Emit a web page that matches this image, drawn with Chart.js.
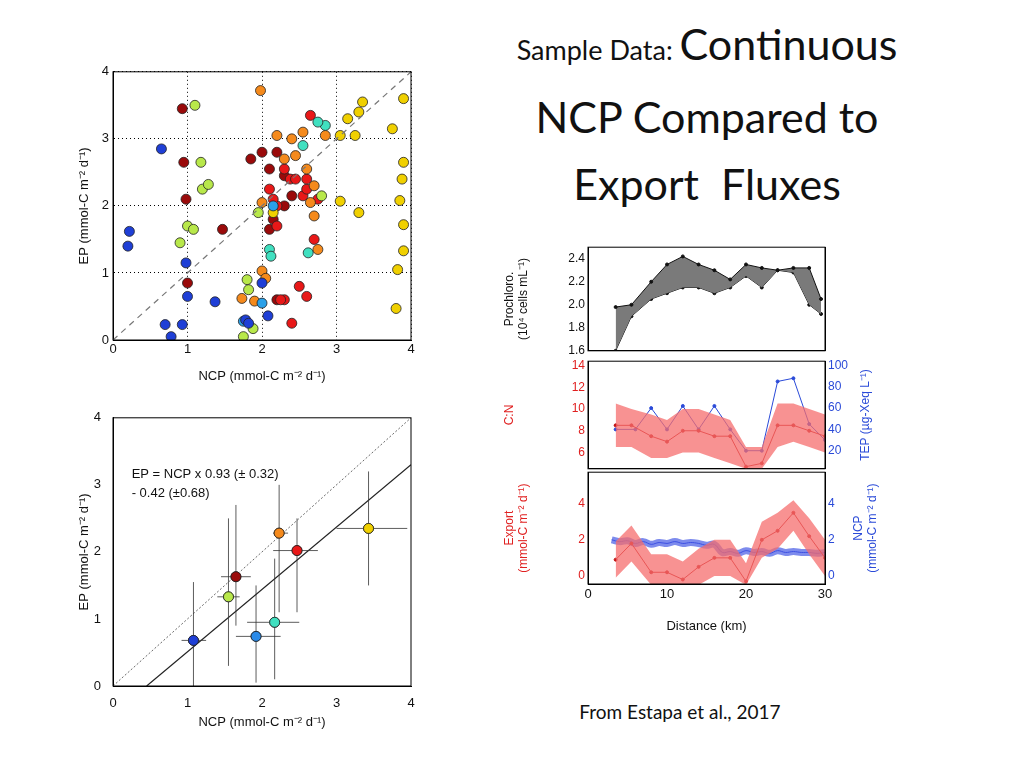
<!DOCTYPE html>
<html><head><meta charset="utf-8">
<script src="https://cdn.jsdelivr.net/npm/chart.js@4"></script>
<style>
body{margin:0;background:#fff;width:1024px;height:768px;position:relative;overflow:hidden;font-family:Lato,sans-serif}
canvas{position:absolute}
.t{position:absolute;text-align:center;color:#111}
</style></head><body>
<div class="t" style="left:437px;top:10px;width:540px;font-size:43px;line-height:67px"><span style="font-size:27px">Sample Data: </span>Continuous<br>NCP Compared to<br>Export&nbsp; Fluxes</div>
<div class="t" style="left:520px;top:700px;width:320px;font-size:19px">From Estapa et al., 2017</div>
<canvas id="c1" width="374" height="340" style="left:46px;top:60px"></canvas>
<canvas id="c2" width="374" height="340" style="left:46px;top:406px"></canvas>
<canvas id="c3" width="400" height="124" style="left:500px;top:237px"></canvas>
<canvas id="c4" width="400" height="128" style="left:500px;top:351px"></canvas>
<canvas id="c5" width="400" height="172" style="left:500px;top:462px"></canvas>
<script>
// ---------- data ----------
const scatterGroups = {
 '#1f3fd6':[[0.2,1.4],[0.22,1.62],[0.65,2.85],[0.7,0.23],[0.78,0.05],[0.93,0.23],[0.98,1.15],[1.0,0.65],[1.37,0.57],[1.78,0.3],[1.82,0.25],[2.0,0.85],[2.08,0.36]],
 '#2aa0e8':[[2.15,2.0],[2.0,0.55],[1.75,0.28]],
 '#40e0c0':[[2.1,1.35],[2.12,1.25],[2.55,2.9],[2.62,1.3],[2.85,3.2],[2.75,3.25]],
 '#b8e84a':[[0.9,1.45],[1.0,1.7],[1.08,1.65],[1.1,3.5],[1.18,2.65],[1.2,2.25],[1.28,2.32],[1.75,0.05],[1.8,0.9],[1.82,0.75],[1.88,0.17],[1.95,1.9],[2.8,2.15]],
 '#f0d000':[[2.15,1.9],[3.05,2.07],[3.15,3.3],[3.25,3.05],[3.3,1.9],[3.3,3.4],[3.35,3.55],[3.75,3.15],[3.8,0.47],[3.82,1.05],[3.85,2.08],[3.88,2.4],[3.9,3.6],[3.9,2.65],[3.9,1.72],[3.9,1.33],[3.05,3.05]],
 '#f58a1c':[[1.73,0.62],[1.9,0.58],[2.0,2.05],[2.0,1.03],[2.05,0.92],[2.2,3.05],[2.3,2.7],[2.4,3.0],[2.45,2.75],[2.55,3.1],[2.7,2.3],[2.65,2.05],[2.7,1.85],[2.75,1.35],[2.6,2.55],[1.98,3.72],[2.85,3.05]],
 '#e81818':[[2.3,0.6],[2.38,2.4],[2.4,0.25],[2.5,0.8],[2.55,2.15],[2.6,2.25],[2.65,3.35],[2.7,1.5],[2.2,1.7],[2.2,2.0],[2.1,2.25],[2.15,2.1],[2.75,2.1],[2.25,0.6],[2.6,0.65],[2.3,2.55],[2.45,2.4],[2.6,2.4]],
 '#9a0a0a':[[0.93,3.45],[0.95,2.65],[0.98,2.1],[1.0,0.85],[1.47,1.65],[1.85,2.7],[2.0,2.8],[2.1,2.55],[2.2,2.8],[2.3,2.45],[2.1,1.65],[2.15,1.8],[2.3,2.0],[2.4,2.15],[2.2,0.6]]
};
const meanColors=['#1f3fd6','#2a8ae8','#40e0c0','#b8e84a','#9a0a0a','#f58a1c','#e81818','#f0d000'];
const meanX=[1.08,1.92,2.17,1.55,1.65,2.23,2.47,3.43];
const meanY=[0.68,0.74,0.95,1.33,1.63,2.28,2.02,2.35];
const xLo=[0.92,1.65,1.8,1.4,1.45,2.15,2.15,3.0], xHi=[1.25,2.25,2.5,1.7,1.85,2.35,2.75,3.95];
const yLo=[0.0,0.05,0.1,0.3,0.9,1.1,1.1,1.5], yHi=[1.55,1.5,1.9,2.5,2.7,3.0,2.5,3.2];
const fitSlope=0.93, fitIntercept=-0.42;

const dist=[3.5,5.5,8,10,12,14,16,18,20,22,24,26,28,29.5];
const prochUp=[1.98,2.0,2.2,2.35,2.42,2.35,2.3,2.22,2.35,2.32,2.3,2.32,2.32,2.05];
const prochLo=[1.6,1.9,2.05,2.1,2.15,2.15,2.1,2.15,2.25,2.15,2.3,2.28,2.0,1.92];
const cnX=[3.5,5.5,8,10,12,14,16,18,20,22,24,26,28,30];
const cn=[8.5,8.5,7.5,7,8,8,7.5,7.5,4.7,5,8.5,8.5,8,7.5];
const cnUp=[10.5,10,9.5,9,10,10,9.5,9,6.5,6.5,10.5,10.5,10,9.5];
const cnLo=[6.5,6.5,5.5,5.5,6,6,5.5,5,4.5,4.5,6.5,7,6.5,6];
const tepX=[3.5,6,8,10,12,14,16,18,20,22,24,26,28,30];
const tep=[40,40,60,40,62,40,62,40,20,20,85,88,45,30];
const expX=[3.5,5.5,8,10,12,14,16,18,20,22,24,26,28,30];
const exp=[0.9,1.8,0.2,0.2,-0.2,0.5,1.0,1.0,-0.3,2.0,2.5,3.5,2.2,1.0];
const expUp=[1.9,2.8,1.2,1.2,0.8,1.5,2.0,2.0,0.7,3.0,3.5,4.2,3.2,2.0];
const expLo=[-0.1,0.8,-0.5,-0.5,-0.5,-0.5,0,0,-0.5,1.0,1.5,2.5,1.2,0];
const ncpX=[3,4,5,6,7,8,9,10,11,12,13,14,15,16,17,18,19,20,21,22,23,24,25,26,27,28,29,30];
const ncp=[2.0,1.9,1.95,1.8,1.9,1.75,1.85,1.8,1.9,1.8,1.85,1.8,1.7,1.75,1.3,1.35,1.25,1.4,1.3,1.35,1.25,1.4,1.3,1.35,1.3,1.3,1.25,1.3];
const prochTicks=[1.6,1.8,2,2.2,2.4], cnTicks=[6,8,10,12,14], tepTicks=[20,40,60,80,100], fluxTicks=[0,2,4];
// ---------- helpers ----------
const F='Liberation Sans';
Chart.defaults.font.family=F; Chart.defaults.color='#111'; Chart.defaults.animation=false;
const fixW=w=>function(s){s.width=w;}; const fixH=h=>function(s){s.height=h;};
const pts=(xs,ys)=>xs.map((x,i)=>({x,y:ys[i]}));
const setTicks=arr=>function(s){s.ticks=arr.map(v=>({value:v}));};
const box={id:'box',afterDraw(ch){const a=ch.chartArea,c=ch.ctx;c.save();c.strokeStyle='#000';c.lineWidth=1;c.strokeRect(a.left,a.top,a.right-a.left,a.bottom-a.top);c.restore();}};
const rightTitle=(lines,col)=>({id:'rt',afterDraw(ch){const a=ch.chartArea,c=ch.ctx;c.save();c.fillStyle=col;c.font='12px '+F;c.textAlign='center';
 const cy=(a.top+a.bottom)/2; c.translate(a.right+40+(lines.length-1)*7,cy);c.rotate(-Math.PI/2);
 lines.forEach((l,i)=>c.fillText(l,0,(i-(lines.length-1))*14+4));c.restore();}});
const base={responsive:false,maintainAspectRatio:false,plugins:{legend:{display:false},tooltip:{enabled:false}}};

// ---------- chart 1 ----------
const ds1=Object.entries(scatterGroups).map(([c,a])=>({type:'scatter',data:a.map(p=>({x:p[0],y:p[1]})),backgroundColor:c,borderColor:'#222',borderWidth:0.8,pointRadius:5}));
ds1.unshift({type:'line',data:[{x:0,y:0},{x:4,y:4}],borderColor:'#777',borderWidth:1.2,borderDash:[6,5],pointRadius:0});
const sq=(grid,dash)=>({
 x:{type:'linear',min:0,max:4,afterFit:fixH(48),ticks:{stepSize:1,font:{size:13},padding:2},grid:grid,border:{color:'#000',dash:dash},title:{display:true,text:'NCP (mmol-C m⁻² d⁻¹)',font:{size:13},padding:{top:0}}},
 y:{type:'linear',min:0,max:4,afterFit:fixW(40),ticks:{stepSize:1,font:{size:13},padding:4},grid:grid,border:{color:'#000',dash:dash},title:{display:true,text:'EP (mmol-C m⁻² d⁻¹)',font:{size:13},padding:{bottom:4}}}
});
new Chart(c1,{data:{datasets:ds1},options:{...base,layout:{padding:{top:9,right:9,left:27,bottom:12}},scales:sq({color:'#000',lineWidth:1,drawTicks:false},[1,3])},plugins:[box]});

// ---------- chart 2 ----------
const ebPlugin={id:'eb',afterDatasetsDraw(ch){const {ctx,scales:{x,y}}=ch;ctx.save();ctx.strokeStyle='#333';ctx.lineWidth=0.8;
 meanX.forEach((mx,i)=>{ctx.beginPath();ctx.moveTo(x.getPixelForValue(xLo[i]),y.getPixelForValue(meanY[i]));ctx.lineTo(x.getPixelForValue(xHi[i]),y.getPixelForValue(meanY[i]));
 ctx.moveTo(x.getPixelForValue(mx),y.getPixelForValue(yLo[i]));ctx.lineTo(x.getPixelForValue(mx),y.getPixelForValue(yHi[i]));ctx.stroke();});
 ctx.restore();
 ch.getDatasetMeta(2).data.forEach(e=>e.draw(ctx));
 ctx.fillStyle='#111';ctx.font='13px '+F;ctx.fillText('EP = NCP x 0.93 (± 0.32)',x.getPixelForValue(0.25),y.getPixelForValue(3.1));ctx.fillText('- 0.42 (±0.68)',x.getPixelForValue(0.25),y.getPixelForValue(2.82));}};
new Chart(c2,{data:{datasets:[
 {type:'line',data:[{x:0,y:0},{x:4,y:4}],borderColor:'#444',borderWidth:0.8,borderDash:[2,2],pointRadius:0},
 {type:'line',data:[{x:-fitIntercept/fitSlope,y:0},{x:4,y:4*fitSlope+fitIntercept}],borderColor:'#222',borderWidth:1.2,pointRadius:0},
 {type:'scatter',data:pts(meanX,meanY),backgroundColor:meanColors,borderColor:'#222',borderWidth:0.8,pointRadius:5}
]},options:{...base,layout:{padding:{top:10,right:9,left:27,bottom:12}},scales:sq({display:false})},plugins:[ebPlugin,box]});

// ---------- right panels ----------
const rx=(show)=>({type:'linear',min:0,max:30,afterFit:fixH(show?50:0),ticks:{display:show,stepSize:10,font:{size:13}},grid:{display:false,drawTicks:false},border:{color:'#000'},title:{display:show,text:'Distance (km)',font:{size:13},padding:0}});
const side=(pos,min,max,tk,title,col,w,show=true)=>({type:'linear',position:pos,min,max,afterFit:fixW(w),afterBuildTicks:setTicks(tk),ticks:{display:show,color:col,font:{size:12},padding:3},grid:{display:false,drawTicks:false},border:{display:true,color:'#000'},title:{display:show&&!!title,text:title,color:col,font:{size:12},padding:{top:2,bottom:2}}});
new Chart(c3,{data:{datasets:[
 {type:'line',data:pts(dist,prochUp),borderColor:'#111',borderWidth:1,pointRadius:1.5,pointBackgroundColor:'#111',fill:'+1',backgroundColor:'#7a7a7a'},
 {type:'line',data:pts(dist,prochLo),borderColor:'#111',borderWidth:1,pointRadius:1.5,pointBackgroundColor:'#111'}
]},options:{...base,layout:{padding:{top:4}},scales:{x:rx(false),y:side('left',1.6,2.5,prochTicks,['Prochloro.','(10⁴ cells mL⁻¹)'],'#111',88),y2:side('right',0,1,[],'','#111',75,false)}},plugins:[box]});
new Chart(c4,{data:{datasets:[
 {type:'line',data:pts(cnX,cnUp),borderWidth:0,pointRadius:0,fill:'+1',backgroundColor:'rgba(245,110,110,0.75)',yAxisID:'y'},
 {type:'line',data:pts(cnX,cnLo),borderWidth:0,pointRadius:0,yAxisID:'y'},
 {type:'line',data:pts(cnX,cn),borderColor:'#c01010',borderWidth:1,pointRadius:1.5,pointBackgroundColor:'#c01010',yAxisID:'y'},
 {type:'line',data:pts(tepX,tep),borderColor:'#2a4ad8',borderWidth:1,pointRadius:1.5,pointBackgroundColor:'#2a4ad8',yAxisID:'y2'}
]},options:{...base,layout:{padding:{top:4}},scales:{x:rx(false),y:side('left',4.5,14.4,cnTicks,'C:N','#e02020',88),y2:side('right',3,104,tepTicks,'','#2a4ad8',75)}},plugins:[box,rightTitle(['TEP (µg-Xeq L⁻¹)'],'#2a4ad8')]});
new Chart(c5,{data:{datasets:[
 {type:'line',data:pts(expX,expUp),borderWidth:0,pointRadius:0,fill:'+1',backgroundColor:'rgba(245,110,110,0.75)',yAxisID:'y'},
 {type:'line',data:pts(expX,expLo),borderWidth:0,pointRadius:0,yAxisID:'y'},
 {type:'line',data:pts(expX,exp),borderColor:'#c01010',borderWidth:1,pointRadius:1.5,pointBackgroundColor:'#c01010',yAxisID:'y'},
 {type:'line',data:pts(ncpX,ncp),borderColor:'rgba(70,90,230,0.7)',borderWidth:7,pointRadius:0,tension:0.4,yAxisID:'y2'},
 {type:'line',data:pts(ncpX,ncp),borderColor:'#2a3ad8',borderWidth:1,pointRadius:0,tension:0.4,yAxisID:'y2'}
]},options:{...base,layout:{padding:{top:4}},scales:{x:rx(true),y:side('left',-0.45,5.75,fluxTicks,['Export','(mmol-C m⁻² d⁻¹)'],'#e02020',88),y2:side('right',-0.45,5.75,fluxTicks,'','#2a4ad8',75)}},plugins:[box,rightTitle(['NCP','(mmol-C m⁻² d⁻¹)'],'#2a4ad8')]});
</script></body></html>
